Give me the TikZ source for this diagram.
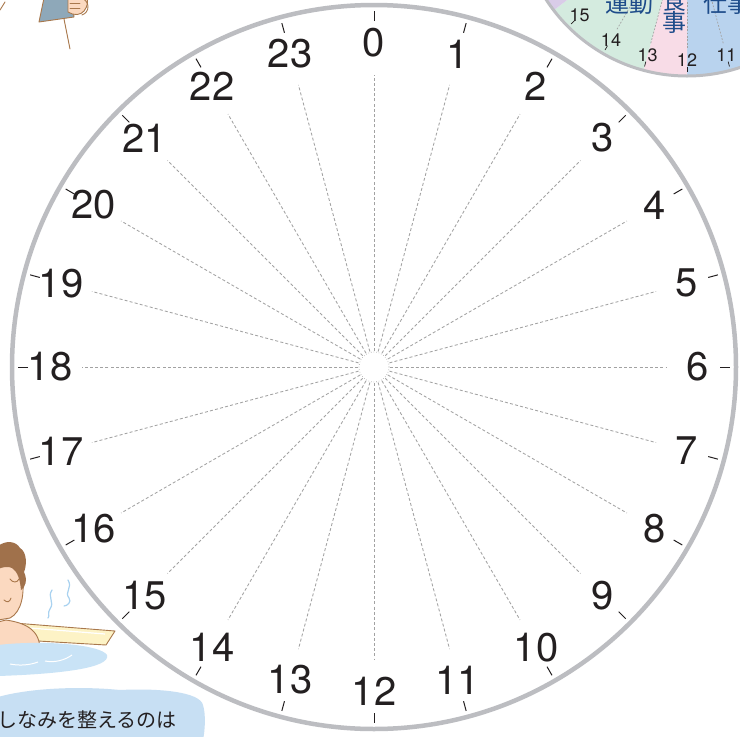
\documentclass[tikz,border=0pt]{standalone}
\usepackage{fontspec}
\setmainfont{TeX Gyre Heros}
\newfontfamily\jpfont{Noto Sans CJK JP}
\definecolor{ringgray}{HTML}{BCBDC1}
\definecolor{spokegray}{HTML}{A2A2A2}
\definecolor{ink}{HTML}{231F20}
\definecolor{sectgreen}{HTML}{D4EBDF}
\definecolor{sectpink}{HTML}{F8DCE7}
\definecolor{sectblue}{HTML}{B9D3EE}
\definecolor{sectpurple}{HTML}{D9CCE8}
\definecolor{labelblue}{HTML}{1E4C8A}
\definecolor{skin}{HTML}{FBD9C0}
\definecolor{hairbrown}{HTML}{A0714B}
\definecolor{outline}{HTML}{A9784C}
\definecolor{cardblue}{HTML}{8EA8B9}
\definecolor{water}{HTML}{C9E3F6}
\definecolor{steam}{HTML}{A9D2F0}
\definecolor{rim}{HTML}{FDF3C6}
\definecolor{bubble}{HTML}{C7DFF3}
\begin{document}
\begin{tikzpicture}[x=1pt,y=-1pt,
  ring/.style={draw=ringgray, line width=4.5pt},
  hourtick/.style={draw=ink, line width=1pt},
  spoke/.style={draw=spokegray, line width=0.85pt, dash pattern=on 3pt off 2.2pt},
  hourlabel/.style={font=\fontsize{40}{40}\selectfont, text=ink, inner sep=0pt},
  minilabel/.style={font=\fontsize{18}{18}\selectfont, text=ink, inner sep=0pt},
  minispoke/.style={draw=spokegray, line width=0.7pt, dash pattern=on 1.8pt off 1.6pt},
  activity/.style={font=\jpfont\fontsize{24}{24}\selectfont, text=labelblue, inner sep=0pt},
  artline/.style={draw=outline, line width=0.9pt, line join=round, line cap=round}]
\useasboundingbox (0,0) rectangle (740,737);
\fill[white] (0,0) rectangle (740,737);

% ---------- neighbouring clock, upper right ----------
\begin{scope}[shift={(687,-92)}]
  \begin{scope}
    \clip (0,0) circle[radius=168pt];
    \fill[sectblue]   (0,0) -- (30:260)  -- (60:260)  -- (90:260)  -- cycle;
    \fill[sectpink]   (0,0) -- (90:260)  -- (105:260) -- cycle;
    \fill[sectgreen]  (0,0) -- (105:260) -- (142.5:260) -- cycle;
    \fill[sectpurple] (0,0) -- (142.5:260) -- (180:260) -- cycle;
    \foreach \h in {11,12,13,14}
      \draw[minispoke] (15*\h-90:60) -- (15*\h-90:141);
  \end{scope}
  \draw[draw=ringgray, line width=3pt] (0,0) circle[radius=168pt];
  \foreach \h in {11,12,13,14,15}{
    \draw[draw=ink, line width=0.7pt] (15*\h-90:159) -- (15*\h-90:164);
    \node[minilabel] (m\h) at (15*\h-90:152) {\h};
  }
\end{scope}
\node[activity] (undo) at (629,4) {運動};
\node[activity, align=center] (shoku) at (674,11) {食\\[-2pt]事};
\node[activity] (shigoto) at (727,3) {仕事};

% ---------- figure with a card, upper left ----------
\draw[artline] (0,10) -- (5,2);
\filldraw[artline, fill=cardblue] (44,-2) -- (39,22) -- (74,17) -- (73,-2) -- cycle;
\draw[artline] (64,19) -- (70,49);
\filldraw[artline, fill=skin] (68,-2) -- (68,12) .. controls (74,16) and (81,15) .. (84,11)
  .. controls (88,6) and (88,1) .. (87,-2) -- cycle;
\draw[artline] (70,3) -- (80,3) (70,8) -- (80,8);
\draw[artline] (82,-2) .. controls (90,2) and (90,12) .. (82,15);

% ---------- bather, lower left ----------
\filldraw[artline, fill=rim] (14,623) -- (115,631) -- (106,645) -- (38,641) -- cycle;
\draw[draw=white, line width=1.2pt] (30,628) -- (105,634);
\filldraw[artline, fill=skin] (-2,565) .. controls (10,560) and (20,566) .. (22,576)
  .. controls (25,592) and (22,612) .. (10,618) -- (-2,620) -- cycle;
\fill[hairbrown] (-2,546) .. controls (6,540) and (16,541) .. (20,548)
  .. controls (27,552) and (27,565) .. (24,572) .. controls (28,580) and (25,588) .. (21,590)
  .. controls (20,580) and (18,572) .. (12,568) .. controls (8,566) and (3,567) .. (-2,569) -- cycle;
\draw[artline] (10,579) .. controls (13,583) and (17,583) .. (19,579);
\draw[artline] (4,600) .. controls (7,603) and (10,602) .. (11,598);
\filldraw[artline, fill=skin] (-2,622) -- (6,620) .. controls (26,623) and (40,630) .. (40,650)
  -- (-2,652) -- cycle;
\fill[water] (-2,645) .. controls (40,640) and (100,644) .. (107,655)
  .. controls (111,668) and (60,674) .. (-2,676) -- cycle;
\draw[draw=white, line width=1pt] (45,661) .. controls (55,663) and (65,660) .. (72,655);
\draw[draw=white, line width=1pt] (10,664) .. controls (20,666) and (30,665) .. (38,662);
\draw[draw=steam, line width=1.2pt, line cap=round] (52,590) .. controls (47,597) and (55,602) .. (50,609)
  .. controls (47,613) and (50,616) .. (48,618);
\draw[draw=steam, line width=1.2pt, line cap=round] (68,580) .. controls (73,588) and (64,592) .. (69,598)
  .. controls (72,602) and (67,606) .. (64,606);

\fill[bubble] (-2,697) .. controls (30,688) and (80,686) .. (120,690)
  .. controls (160,688) and (200,692) .. (203,705) .. controls (206,715) and (205,730) .. (203,740)
  -- (-2,740) -- cycle;
\node[anchor=west, font=\jpfont\fontsize{20}{20}\selectfont, text=ink, inner sep=0pt] (caption) at (-3,720) {しなみを整えるのは};

% ---------- 24-hour dial ----------
\begin{scope}[shift={(374,367)}]
  \node[circle, draw=spokegray, dotted, line width=0.6pt, minimum size=30pt, inner sep=0pt] (hub) at (0,0) {};
  \foreach \h in {0,...,23}{
    \coordinate (in\h)  at (15*\h-90:16);
    \coordinate (out\h) at (15*\h-90:292);
    \draw[spoke] (in\h) -- (out\h);
    \draw[hourtick] (15*\h-90:346) -- (15*\h-90:356);
    \node[hourlabel] (h\h) at (15*\h-90:324) {\h};
  }
  \draw[ring] (0,0) circle[radius=362pt];
\end{scope}
\end{tikzpicture}
\end{document}
